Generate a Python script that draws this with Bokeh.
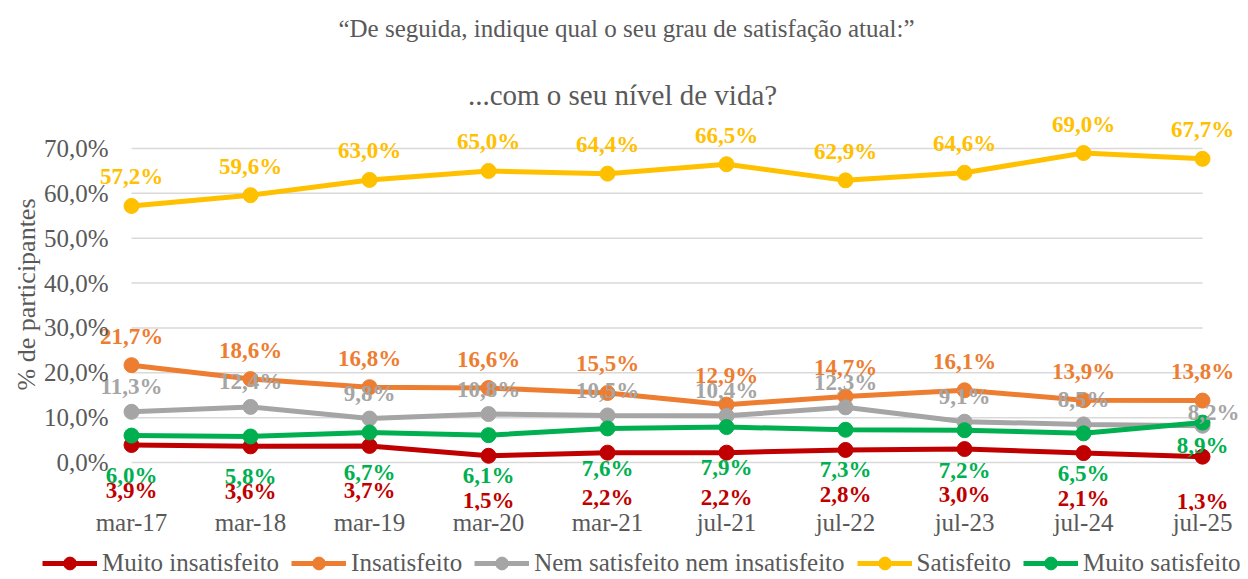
from bokeh.plotting import figure
from bokeh.layouts import column
from bokeh.models import (ColumnDataSource, FixedTicker, Title, Legend, LegendItem, Range1d, Label)
from bokeh.embed import file_html
from bokeh.resources import INLINE
from bokeh.core.properties import value

# ---- data ----
categories = ["mar-17", "mar-18", "mar-19", "mar-20", "mar-21",
              "jul-21", "jul-22", "jul-23", "jul-24", "jul-25"]
muito_insatisfeito = [3.9, 3.6, 3.7, 1.5, 2.2, 2.2, 2.8, 3.0, 2.1, 1.3]
insatisfeito = [21.7, 18.6, 16.8, 16.6, 15.5, 12.9, 14.7, 16.1, 13.9, 13.8]
nem_nem = [11.3, 12.4, 9.8, 10.8, 10.5, 10.4, 12.3, 9.1, 8.5, 8.2]
satisfeito = [57.2, 59.6, 63.0, 65.0, 64.4, 66.5, 62.9, 64.6, 69.0, 67.7]
muito_satisfeito = [6.0, 5.8, 6.7, 6.1, 7.6, 7.9, 7.3, 7.2, 6.5, 8.9]
series_names = ["Muito insatisfeito", "Insatisfeito", "Nem satisfeito nem insatisfeito",
                "Satisfeito", "Muito satisfeito"]
y_ticks = [0, 10, 20, 30, 40, 50, 60, 70]
y_tick_labels = ["0,0%", "10,0%", "20,0%", "30,0%", "40,0%", "50,0%", "60,0%", "70,0%"]
title_1 = "\u201cDe seguida, indique qual o seu grau de satisfação atual:\u201d"
title_2 = "...com o seu nível de vida?"
y_title = "% de participantes"

# ---- styles ----
colors = ["#C00000", "#ED7D31", "#A5A5A5", "#FFC000", "#00B050"]
TXT = "#595959"
FONT = "Liberation Serif"
label_dy = [45, -29, -25, -29, 40]
special = {(2, 9): (11, -13), (4, 9): (0, 23)}

W, H0, H1, H2 = 1248, 112, 433, 34
BL, BR = 42, 8
X0, X1 = -0.748, 9.319


def strip(height, xr, yr):
    f = figure(width=W, height=height, output_backend="svg", toolbar_location=None,
               x_range=xr, y_range=yr, min_border_left=BL, min_border_right=BR,
               min_border_top=0, min_border_bottom=0, outline_line_alpha=0)
    f.axis.visible = False
    f.grid.visible = False
    f.background_fill_color = "white"
    f.border_fill_color = "white"
    return f


# ---- header with the two titles ----
hd = strip(H0, Range1d(BL, W - BR), Range1d(H0, 0))
hd.add_layout(Label(x=626, y=28, text=title_1, text_align="center", text_baseline="middle",
                    text_font=FONT, text_font_size="25px", text_color=TXT))
hd.add_layout(Label(x=622, y=94, text=title_2, text_align="center", text_baseline="middle",
                    text_font=FONT, text_font_size="29px", text_color=TXT))

# ---- main chart ----
p = figure(width=W, height=H1, output_backend="svg", toolbar_location=None,
           x_range=Range1d(X0, X1), y_range=Range1d(-10.70, 78.03),
           min_border_left=BL, min_border_right=BR, min_border_top=0,
           min_border_bottom=35, outline_line_alpha=0)
p.background_fill_color = "white"
p.border_fill_color = "white"

xs = list(range(len(categories)))

p.segment(x0=[xs[0]] * len(y_ticks), x1=[xs[-1]] * len(y_ticks), y0=y_ticks, y1=y_ticks,
          line_color="#D9D9D9", line_width=1.5)
p.xgrid.visible = False
p.ygrid.visible = False

all_series = [muito_insatisfeito, insatisfeito, nem_nem, satisfeito, muito_satisfeito]
for i, (vals, col) in enumerate(zip(all_series, colors)):
    p.line(xs, vals, line_color=col, line_width=5)
    p.scatter(xs, vals, size=15, fill_color=col, line_color=col)

for i, (vals, col) in enumerate(zip(all_series, colors)):
    xo, yo = [], []
    for j in range(len(vals)):
        dx, dy = special.get((i, j), (0, label_dy[i]))
        xo.append(dx)
        yo.append(dy)
    src = ColumnDataSource(dict(
        x=xs, y=vals,
        t=[f"{v:.1f}".replace(".", ",") + "%" for v in vals],
        xo=xo, yo=yo))
    p.text(x="x", y="y", text="t", source=src, x_offset="xo", y_offset="yo",
           text_align="center", text_baseline="middle", text_color=col,
           text_font=value(FONT), text_font_size="23px", text_font_style="bold")

p.xaxis.ticker = FixedTicker(ticks=xs)
p.xaxis.major_label_overrides = {i: c for i, c in enumerate(categories)}
p.yaxis.ticker = FixedTicker(ticks=y_ticks)
p.yaxis.major_label_overrides = {t: l for t, l in zip(y_ticks, y_tick_labels)}
for ax in (p.xaxis[0], p.yaxis[0]):
    ax.axis_line_alpha = 0
    ax.major_tick_out = 0
    ax.major_tick_in = 0
    ax.minor_tick_out = 0
    ax.minor_tick_in = 0
    ax.major_label_text_color = TXT
    ax.major_label_text_font = FONT
p.xaxis.major_label_text_font_size = "25px"
p.xaxis.major_label_standoff = -2
p.yaxis.major_label_text_font_size = "25px"
p.yaxis.major_label_standoff = -66

p.add_layout(Title(text=y_title, align="left", offset=120,
                   text_font=FONT, text_font_size="26px", text_color=TXT,
                   text_font_style="normal", standoff=0), "left")

# ---- legend strip (same series, drawn outside its visible range) ----
lg = strip(H2, Range1d(0, 1), Range1d(-1, 0))
items = []
for vals, col, name in zip(all_series, colors, series_names):
    lr = lg.line(xs, vals, line_color=col, line_width=5)
    sr = lg.scatter(xs, vals, size=15, fill_color=col, line_color=col)
    items.append(LegendItem(label=name, renderers=[lr, sr]))
legend = Legend(items=items, orientation="horizontal", location=(0, 0),
                border_line_alpha=0, background_fill_alpha=0,
                label_text_font=FONT, label_text_font_size="25px",
                label_text_color=TXT, glyph_width=55, glyph_height=32,
                spacing=12, label_standoff=5, padding=0, margin=0)
lg.add_layout(legend, "center")

layout = column(hd, p, lg, spacing=0)
open("out.html", "w").write(file_html(layout, INLINE))
